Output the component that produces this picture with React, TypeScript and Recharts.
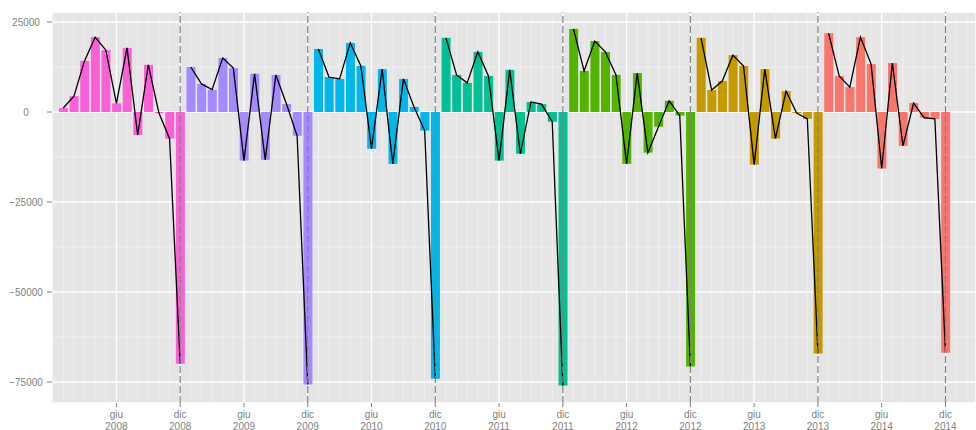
import { ComposedChart, Bar, Line, XAxis, YAxis, CartesianGrid, ReferenceLine, Cell } from "recharts";

const years = [2008, 2009, 2010, 2011, 2012, 2013, 2014];
const monthNames = ["gen", "feb", "mar", "apr", "mag", "giu", "lug", "ago", "set", "ott", "nov", "dic"];
const yearColors = ["#FB61D7", "#A58AFF", "#00B6EB", "#00C094", "#53B400", "#C49A00", "#F8766D"];

const v2008 = [1100, 4400, 14200, 20800, 17200, 2400, 17800, -6400, 13100, -300, -7400, -69900];
const v2009 = [12500, 7800, 6200, 15000, 12200, -13500, 10600, -13300, 10300, 2200, -6600, -75700];
const v2010 = [17500, 9700, 9200, 19200, 12800, -10200, 11900, -14400, 9200, 1400, -5200, -74100];
const v2011 = [20600, 10300, 8100, 16700, 10000, -13500, 11700, -11600, 2800, 2200, -2700, -76000];
const v2012 = [23100, 11400, 19700, 16700, 10300, -14400, 10800, -11300, -4100, 3100, -1000, -70700];
const v2013 = [20600, 6100, 8600, 15800, 12800, -14600, 11900, -7400, 5800, -300, -1900, -67100];
const v2014 = [21900, 10000, 6900, 20800, 13300, -15700, 13600, -9400, 2500, -1600, -1900, -66900];
const valuesByYear = [v2008, v2009, v2010, v2011, v2012, v2013, v2014];

const yTicks = [-75000, -50000, -25000, 0, 25000];
const yMinor = [-62500, -37500, -12500, 12500];

// one row per month; the line is split by year (field "y<year>" only set for that year)
const data = years.flatMap((yr, yi) =>
  valuesByYear[yi].map((v, m) => ({
    i: yi * 12 + m,
    month: monthNames[m],
    year: yr,
    color: yearColors[yi],
    value: v,
    ["y" + yr]: v,
  }))
);

// giu and dic of every year
const xTicks = data.filter((d) => d.month === "giu" || d.month === "dic").map((d) => d.i);
const decIdx = data.filter((d) => d.month === "dic").map((d) => d.i);
const xMinor: number[] = [];
for (let k = -1; k <= 85; k++) if (!xTicks.includes(k)) xMinor.push(k);

const FONT = '"Liberation Sans", Arial, sans-serif';
const TEXT = "#7F7F7F";

const MonthTick = (props: any) => {
  const { x, y, payload } = props;
  const d = data[payload.value];
  if (!d) return null;
  return (
    <text x={x} y={y} textAnchor="middle" fill={TEXT} fontSize={10} fontFamily={FONT}>
      <tspan x={x} dy={11}>{d.month}</tspan>
      <tspan x={x} dy={11.5}>{d.year}</tspan>
    </text>
  );
};

const ValueTick = (props: any) => {
  const { y, payload } = props;
  const v = payload.value as number;
  const label = v < 0 ? "\u2212" + Math.abs(v) : String(v);
  return (
    <text x={26} y={y} dy={3.5} textAnchor="middle" fill={TEXT} fontSize={10} fontFamily={FONT}>
      {label}
    </text>
  );
};

export default function App() {
  return (
    <div style={{ position: "absolute", left: 0, top: 0, width: 976, height: 430, background: "#fff" }}>
      <ComposedChart width={976} height={430} data={data} margin={{ top: 12, right: 0, bottom: 0, left: 0 }}>
        <CartesianGrid fill="#E5E5E5" stroke="#FFFFFF" strokeWidth={1.3} />
        <XAxis
          type="number"
          dataKey="i"
          domain={[-1.06, 85.87]}
          allowDataOverflow
          ticks={xTicks}
          interval={0}
          axisLine={false}
          tickLine={{ stroke: TEXT }}
          tickSize={4}
          tickMargin={0}
          height={27}
          tick={<MonthTick />}
        />
        <YAxis
          type="number"
          domain={[-80833, 27778]}
          allowDataOverflow
          ticks={yTicks}
          interval={0}
          axisLine={false}
          tickLine={{ stroke: TEXT }}
          tickSize={5}
          width={52}
          tick={<ValueTick />}
        />
        {xMinor.map((k) => (
          <ReferenceLine key={"xm" + k} x={k} stroke="#F2F2F2" strokeWidth={0.8} zIndex={-90} />
        ))}
        {yMinor.map((v) => (
          <ReferenceLine key={"ym" + v} y={v} stroke="#F2F2F2" strokeWidth={0.8} zIndex={-90} />
        ))}
        <Bar dataKey="value" barSize={9} isAnimationActive={false}>
          {data.map((d) => (
            <Cell key={d.i} fill={d.color} />
          ))}
        </Bar>
        {years.map((yr) => (
          <Line
            key={yr}
            type="linear"
            dataKey={"y" + yr}
            stroke="#000000"
            strokeWidth={1.3}
            dot={false}
            activeDot={false}
            connectNulls={false}
            isAnimationActive={false}
          />
        ))}
        {decIdx.map((k) => (
          <ReferenceLine key={"dec" + k} x={k} stroke="#828282" strokeWidth={1.2} strokeDasharray="7 3" zIndex={600} />
        ))}
      </ComposedChart>
    </div>
  );
}
